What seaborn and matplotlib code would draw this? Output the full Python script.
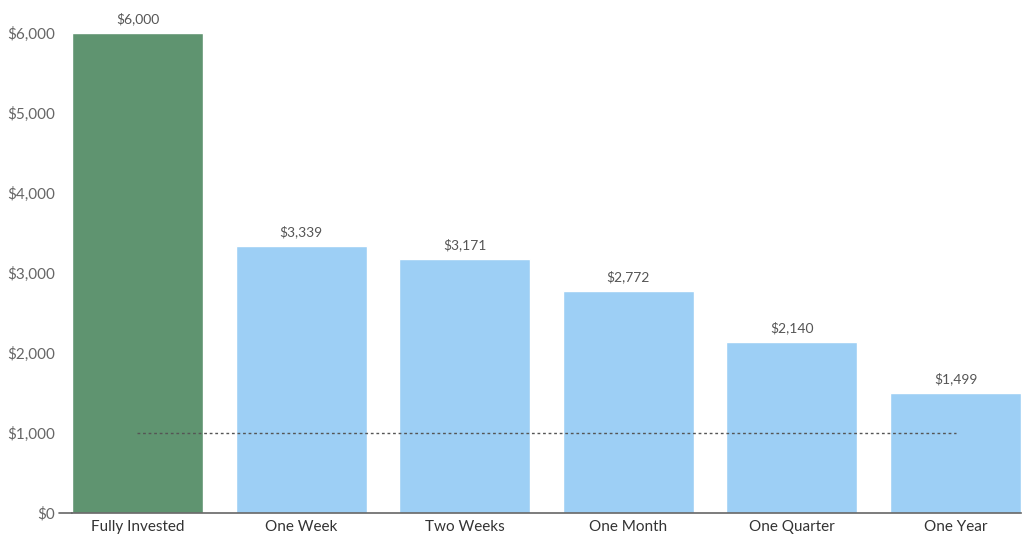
import numpy as np
import pandas as pd
import seaborn as sns
import matplotlib.pyplot as plt
from matplotlib.ticker import FuncFormatter

# data
periods = ["Fully Invested", "One Week", "Two Weeks", "One Month", "One Quarter", "One Year"]
values = [6000, 3339, 3171, 2772, 2140, 1499]
bar_colors = ["#5f9470", "#9dcff5", "#9dcff5", "#9dcff5", "#9dcff5", "#9dcff5"]
reference_level = 1000

df = pd.DataFrame({"period": periods, "value": values})

sns.set_style("white")
plt.rcParams["font.family"] = ["Lato", "DejaVu Sans"]

fig = plt.figure(figsize=(10.25, 5.35), dpi=100)
ax = fig.add_axes([72 / 1025, 22 / 535, 949 / 1025, 480 / 535])

sns.barplot(data=df, x="period", y="value", hue="period", palette=bar_colors,
            legend=False, width=0.8, saturation=1, ax=ax)

# value labels above bars
for i, v in enumerate(values):
    ax.text(i, v + 100, f"${v:,}", ha="center", va="bottom", fontsize=10, color="#555555")

# dotted reference line from first to last bar centre
ax.plot([0, len(periods) - 1], [reference_level, reference_level],
        linestyle=(0, (2, 2)), color="#555555", linewidth=1)

ax.set_xlim(-0.4, len(periods) - 0.6)
ax.set_ylim(0, 6000)
ax.set_yticks(np.arange(0, 6001, 1000))
ax.yaxis.set_major_formatter(FuncFormatter(lambda y, _: f"${int(y):,}"))
ax.set_xlabel("")
ax.set_ylabel("")

for side in ["top", "right", "left"]:
    ax.spines[side].set_visible(False)
ax.spines["bottom"].set_color("#666666")
ax.spines["bottom"].set_linewidth(1.2)

ax.tick_params(axis="y", length=0, pad=12, labelsize=11, labelcolor="#666666")
ax.tick_params(axis="x", length=0, pad=5, labelsize=11, labelcolor="#333333")

# short tick only at $0, joining the baseline
ax.plot([-0.014, 0], [0, 0], transform=ax.get_yaxis_transform(),
        color="#666666", linewidth=1.2, clip_on=False)

fig.savefig("out.png", dpi=100)
